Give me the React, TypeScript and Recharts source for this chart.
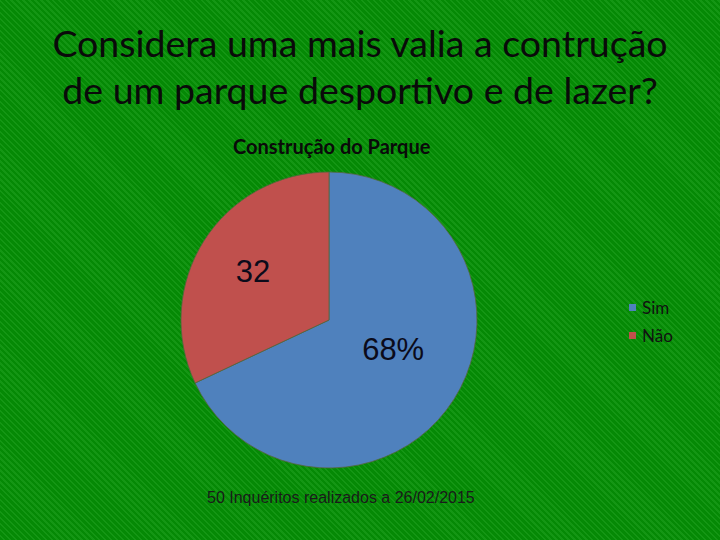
import React from 'react';
import { PieChart, Pie, Cell, Legend } from 'recharts';

const categories = ['Sim', 'Não'];
const values = [68, 32];
const labelTexts = ['68%', '32'];
const COLORS = ['#4F81BD', '#C0504D'];

const chartData = categories.map((name, i) => ({ name, value: values[i], label: labelTexts[i] }));

const RAD = Math.PI / 180;

// label distance from centre per slice (PowerPoint put them a bit unevenly)
const LABEL_R = [76, 90];
const LABEL_DY = [-11, 0];

const renderLabel = (props: any) => {
  const { cx, cy, midAngle, index } = props;
  const r = LABEL_R[index];
  const x = cx + r * Math.cos(-midAngle * RAD);
  const y = cy + r * Math.sin(-midAngle * RAD) + LABEL_DY[index];
  return (
    <text
      x={x}
      y={y}
      fill="#0b0b1a"
      textAnchor="middle"
      dominantBaseline="central"
      style={{ fontFamily: '"Liberation Sans", Arial, sans-serif', fontSize: 31 }}
    >
      {chartData[index].label}
    </text>
  );
};

// legend drawn in data order (recharts reverses pie payload otherwise)
const renderLegend = () => (
  <div style={{ fontFamily: 'Lato, "Open Sans", sans-serif', fontSize: 17, color: '#111' }}>
    {categories.map((name, i) => (
      <div key={`lg-${i}`} style={{ display: 'flex', alignItems: 'center', height: 28 }}>
        <span style={{ width: 7, height: 7, background: COLORS[i], marginRight: 6, display: 'inline-block' }} />
        <span>{name}</span>
      </div>
    ))}
  </div>
);

export default function App() {
  return (
    <div
      style={{
        position: 'absolute',
        left: 0,
        top: 0,
        width: 720,
        height: 540,
        overflow: 'hidden',
        background: 'repeating-linear-gradient(45deg, #058905 0px, #058905 2.5px, #149614 2.5px, #149614 4.2px)',
      }}
    >
      <div
        style={{
          position: 'absolute',
          left: 0,
          top: 19,
          width: 720,
          textAlign: 'center',
          fontFamily: 'Lato, "Open Sans", sans-serif',
          fontSize: 37.5,
          lineHeight: '47px',
          color: '#0a0a0a',
        }}
      >
        Considera uma mais valia a contrução
        <br />
        de um parque desportivo e de lazer?
      </div>
      <div
        style={{
          position: 'absolute',
          left: 233,
          top: 134,
          fontFamily: 'Lato, "Open Sans", sans-serif',
          fontWeight: 'bold',
          fontSize: 20,
          color: '#0a0a0a',
        }}
      >
        Construção do Parque
      </div>
      <div style={{ position: 'absolute', left: 0, top: 0 }}>
        <PieChart width={720} height={540} margin={{ top: 0, right: 0, bottom: 0, left: 0 }}>
          <Pie
            data={chartData}
            dataKey="value"
            nameKey="name"
            cx={329}
            cy={320}
            outerRadius={148}
            startAngle={90}
            endAngle={-270}
            stroke="#55663f"
            strokeWidth={0.8}
            label={renderLabel}
            labelLine={false}
            isAnimationActive={false}
          >
            {chartData.map((_e, i) => (
              <Cell key={`cell-${i}`} fill={COLORS[i]} />
            ))}
          </Pie>
          <Legend
            content={renderLegend}
            layout="vertical"
            wrapperStyle={{ position: 'absolute', left: 629, top: 293, width: 80 }}
          />
        </PieChart>
      </div>
      <div
        style={{
          position: 'absolute',
          left: 207,
          top: 489,
          fontFamily: '"Liberation Sans", Arial, sans-serif',
          fontSize: 16,
          color: '#1a1a1a',
        }}
      >
        50 Inquéritos realizados a 26/02/2015
      </div>
    </div>
  );
}
